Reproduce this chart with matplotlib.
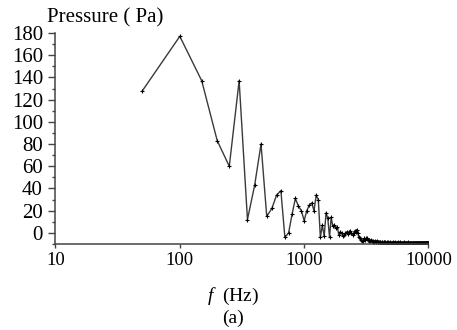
import numpy as np
import matplotlib
matplotlib.use("Agg")
import matplotlib.pyplot as plt
from matplotlib.ticker import FixedLocator, MultipleLocator, FuncFormatter

plt.rcParams["font.family"] = ["Liberation Serif", "DejaVu Serif"]
plt.rcParams["mathtext.fontset"] = "custom"
plt.rcParams["mathtext.it"] = "Liberation Serif:italic"
plt.rcParams["mathtext.rm"] = "Liberation Serif"

# frequency grid, 50 Hz steps
freq = np.arange(50, 10001, 50)

# pressure amplitude (Pa)
p_low = [128, 177, 137, 83, 60, 137, 12, 43, 80, 15,
         22, 34, 38, -4, 0, 17, 31, 24, 20, 11,
         20, 25, 27, 20, 34, 30, -4, 7, -3, 18,
         13, -4, 14, 6, 7, 4, 5, -2, 1, 0]          # 50 .. 2000
p_mid = [-3, -2, 0, 1, -1, 1, 2, 0, -2, 0,
         2, 1, 3, 0, -4, -5, -6, -7, -7, -6,
         -5, -6, -5, -5, -6, -6, -7, -7, -6, -7,
         -8, -7, -8, -7, -8, -8, -7, -8, -8, -8,
         -8, -8, -9, -8, -8, -9, -8, -8, -9, -8,
         -9, -8, -9, -9, -8, -9, -9, -8, -9, -9]    # 2050 .. 5000
p_high = [-9, -9, -8, -9, -9, -9, -8, -9, -9, -9,
          -9, -9, -8, -9, -9, -9, -9, -9, -8, -9,
          -9, -9, -9, -9, -9, -8, -9, -9, -9, -9,
          -9, -9, -9, -9, -9, -9, -9, -8, -9, -9,
          -9, -9, -9, -9, -9, -9, -9, -9, -9, -9,
          -9, -9, -9, -9, -9, -9, -9, -9, -9, -9,
          -9, -9, -9, -9, -9, -9, -9, -9, -9, -9,
          -9, -9, -9, -9, -9, -9, -9, -9, -9, -9,
          -9, -9, -9, -9, -9, -9, -9, -9, -9, -9,
          -9, -9, -9, -9, -9, -9, -9, -9, -9, -9]  # 5050 .. 10000
pressure = p_low + p_mid + p_high

x_ticks = [10, 100, 1000, 10000]
y_ticks = [0, 20, 40, 60, 80, 100, 120, 140, 160, 180]

fig = plt.figure(figsize=(4.57, 3.30), dpi=100)
ax = fig.add_axes([0.1214, 0.2606, 0.8162, 0.6394])

ax.plot(freq, pressure, color="#3a3a3a", linewidth=1.0,
        marker="+", markersize=3, markeredgewidth=0.8, markeredgecolor="black")

ax.set_xscale("log")
ax.set_xlim(10, 10000)
ax.set_ylim(-10, 180)

ax.xaxis.set_major_locator(FixedLocator(x_ticks))
ax.xaxis.set_minor_locator(FixedLocator([]))
ax.xaxis.set_major_formatter(FuncFormatter(lambda v, pos: f"{v:.0f}"))
ax.yaxis.set_major_locator(FixedLocator(y_ticks))
ax.yaxis.set_minor_locator(MultipleLocator(10))

for s in ["top", "right"]:
    ax.spines[s].set_visible(False)
for s in ["left", "bottom"]:
    ax.spines[s].set_color("#444444")
    ax.spines[s].set_linewidth(1.1)

ax.tick_params(axis="y", which="major", direction="out", length=5, width=1,
               color="#444444", labelsize=15, pad=4)
ax.tick_params(axis="y", which="minor", direction="out", length=2.5, width=1,
               color="#444444")
ax.tick_params(axis="x", which="major", direction="out", length=3, width=1,
               color="#444444", labelsize=13.5, pad=3)

fig.text(0.103, 0.945, "Pressure ( Pa)", fontsize=15, ha="left", va="center")
fig.text(0.51, 0.103, r"$\mathit{f}$  (Hz)", fontsize=14, ha="center", va="center")
fig.text(0.51, 0.036, "(a)", fontsize=14, ha="center", va="center")

fig.savefig("out.png", dpi=100)
